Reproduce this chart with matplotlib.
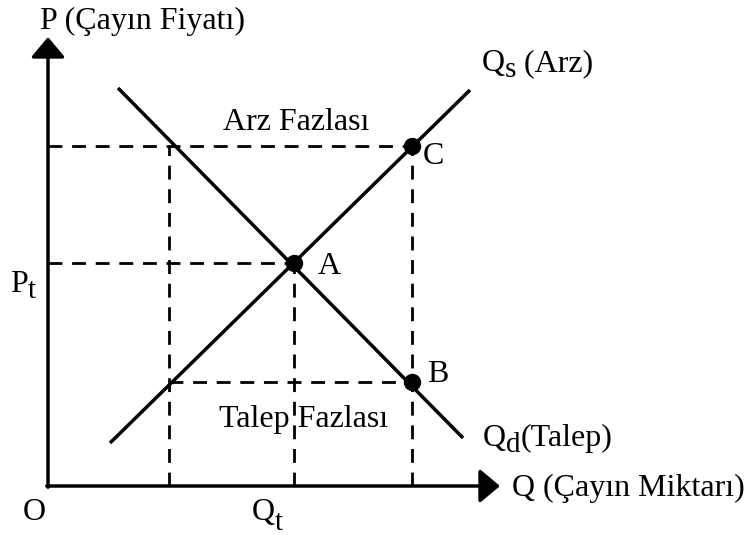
import matplotlib
matplotlib.use("Agg")
import matplotlib.pyplot as plt
from matplotlib.transforms import offset_copy

plt.rcParams['font.family'] = ['Liberation Serif', 'DejaVu Serif']

# Economic values (arbitrary units)
Q_low, Q_eq, Q_high = 121, 246, 364
P_low, P_eq, P_high = 104, 223, 340
supply_q = [62, 422]
supply_p = [43, 396]
demand_q = [70, 415]
demand_p = [398, 48]
points = {"A": (Q_eq, P_eq), "B": (Q_high, P_low), "C": (Q_high, P_high)}
x_axis_end, y_axis_end = 452, 449

FS = 23
fig = plt.figure(figsize=(7.48, 5.35), dpi=100)
ax = fig.add_axes([0, 0, 1, 1])
ax.set_xlim(-48, 700)
ax.set_ylim(-49, 486)
ax.axis('off')

# axes with arrows
arrow_kw = dict(arrowstyle='-|>,head_length=0.62,head_width=0.52', mutation_scale=20,
                lw=2.5, color='black', shrinkA=0, shrinkB=0)
ax.annotate('', xy=(0, y_axis_end), xytext=(0, -1.2), arrowprops=arrow_kw)
ax.annotate('', xy=(x_axis_end, 0), xytext=(-1.2, 0), arrowprops=arrow_kw)

dash = dict(color='black', lw=2, linestyle=(0, (5, 3.5)))
ax.plot([0, Q_high], [P_high, P_high], **dash)
ax.plot([0, Q_eq], [P_eq, P_eq], **dash)
ax.plot([Q_low, Q_high], [P_low, P_low], **dash)
ax.plot([Q_low, Q_low], [0, P_high], **dash)
ax.plot([Q_eq, Q_eq], [0, P_eq], **dash)
ax.plot([Q_high, Q_high], [0, P_high], **dash)

ax.plot(supply_q, supply_p, color='black', lw=2.5, solid_capstyle='butt')
ax.plot(demand_q, demand_p, color='black', lw=2.5, solid_capstyle='butt')

for name, (q, p) in points.items():
    ax.plot(q, p, 'o', color='black', markersize=11.5, zorder=5)

ax.text(-8, 465, 'P (Çayın Fiyatı)', fontsize=FS, ha='left', va='center')
ax.text(248, 364, 'Arz Fazlası', fontsize=FS, ha='center', va='center')
ax.text(375, 329, 'C', fontsize=FS, ha='left', va='center')
ax.text(270, 220, 'A', fontsize=FS, ha='left', va='center')
ax.text(379, 112, 'B', fontsize=FS, ha='left', va='center')
ax.text(256, 66, 'Talep Fazlası', fontsize=FS, ha='center', va='center')
ax.text(464, -2, 'Q (Çayın Miktarı)', fontsize=FS, ha='left', va='center')
ax.text(-14, -26, 'O', fontsize=FS, ha='center', va='center')

renderer = fig.canvas.get_renderer()


def sub_label(x, y, main, sub, rest='', drop=4.5, sub_fs=FS - 2):
    t1 = ax.text(x, y, main, fontsize=FS, ha='left', va='baseline')
    w1 = t1.get_window_extent(renderer).width * 72 / fig.dpi
    tr = offset_copy(ax.transData, fig=fig, x=w1, y=-drop, units='points')
    t2 = ax.text(x, y, sub, fontsize=sub_fs, ha='left', va='baseline', transform=tr)
    if rest:
        w2 = t2.get_window_extent(renderer).width * 72 / fig.dpi
        tr2 = offset_copy(ax.transData, fig=fig, x=w1 + w2, y=0, units='points')
        ax.text(x, y, rest, fontsize=FS, ha='left', va='baseline', transform=tr2)


sub_label(434, 415, 'Q', 's', ' (Arz)')
sub_label(435, 40, 'Q', 'd', '(Talep)')
sub_label(-38, 194, 'P', 't')
sub_label(204, -34, 'Q', 't', drop=7)

fig.savefig('out.png', dpi=100)
